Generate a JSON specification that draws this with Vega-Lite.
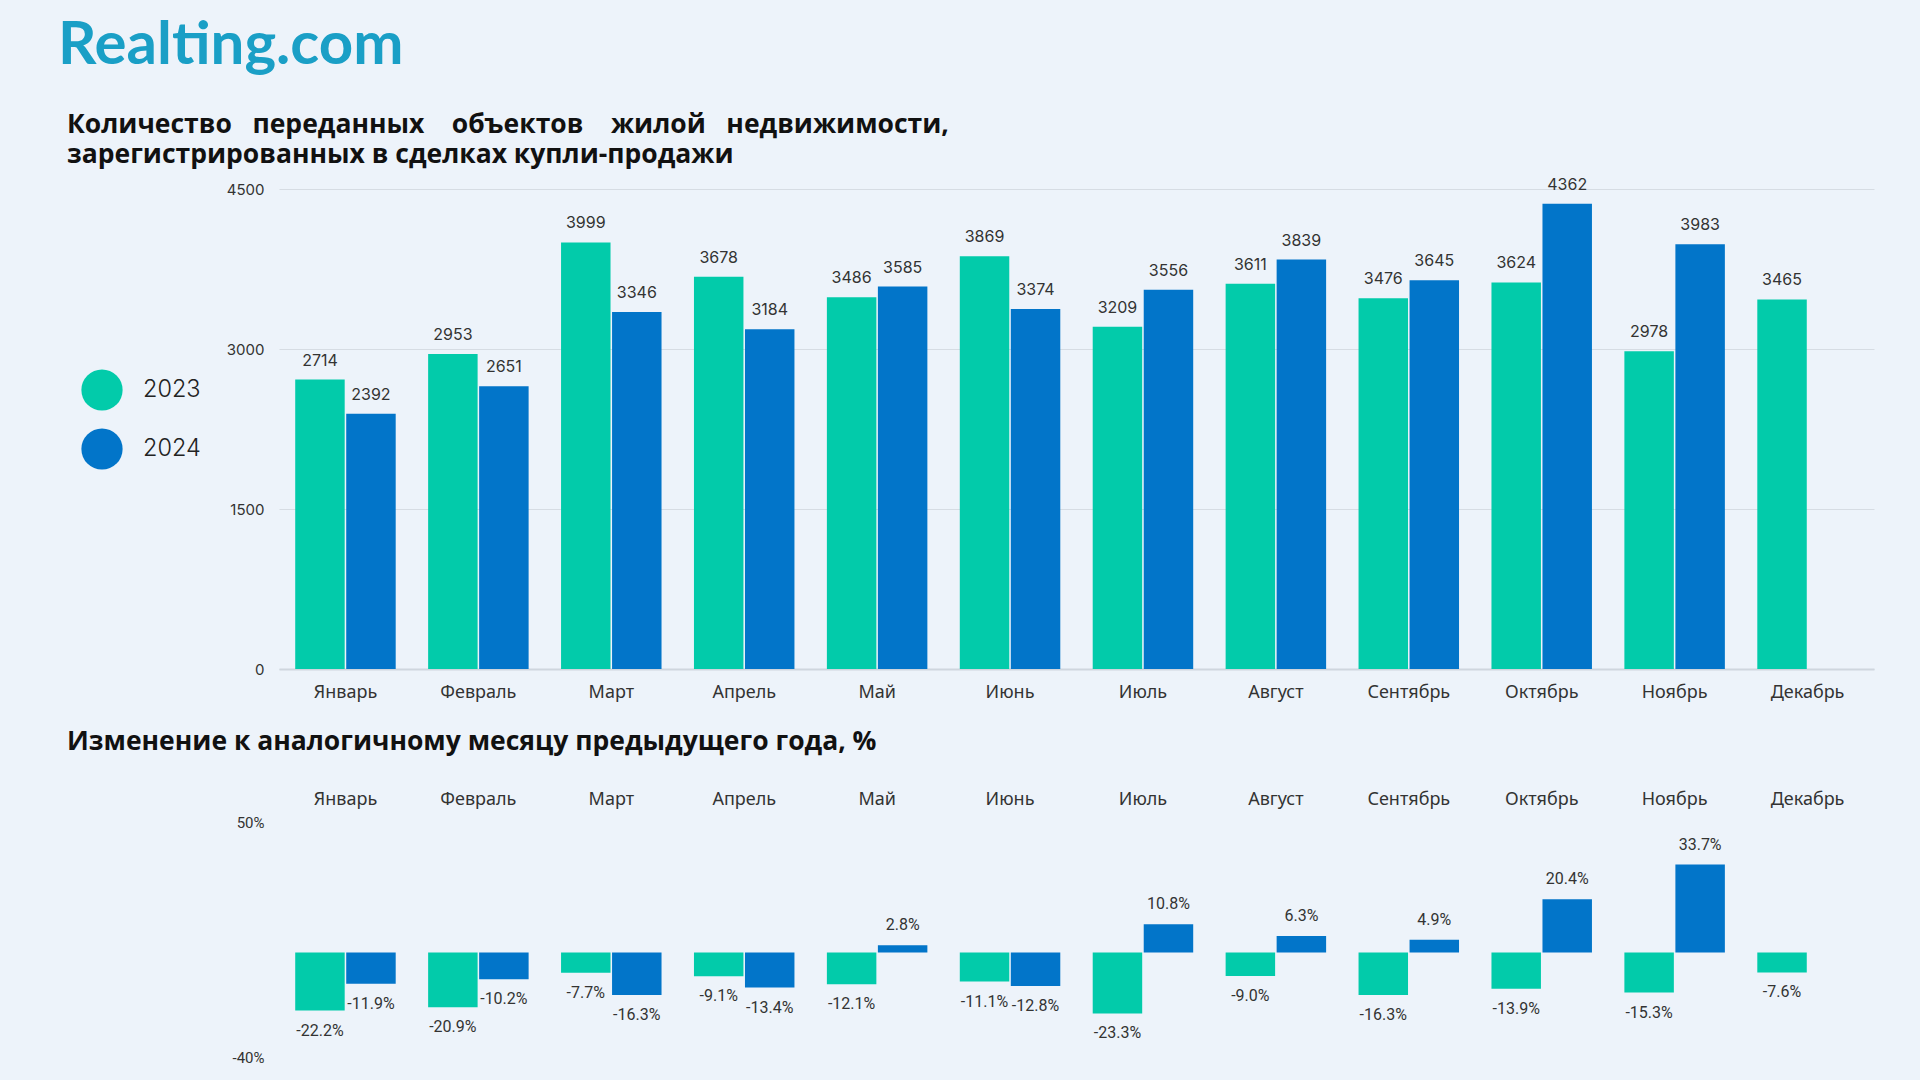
{
  "$schema": "https://vega.github.io/schema/vega-lite/v6.json",
  "background": "#edf3fa",
  "padding": {"left": 58, "top": 16, "right": 46, "bottom": 24},
  "config": {
    "view": {"stroke": null},
    "locale": {"number": {"decimal": ".", "thousands": "", "grouping": [3], "currency": ["", ""], "minus": "-"}},
    "axis": {"labelFont": "Noto Sans", "labelColor": "#333333", "ticks": false, "title": null}
  },
  "title": {
    "text": "Realting.com",
    "anchor": "start",
    "frame": "bounds",
    "dx": -9,
    "font": "Lato",
    "fontSize": 60,
    "fontWeight": "bold",
    "color": "#1a9fc6",
    "offset": 35
  },
  "datasets": {
    "counts": [
      {"month": "Январь", "year": "2023", "value": 2714},
      {"month": "Январь", "year": "2024", "value": 2392},
      {"month": "Февраль", "year": "2023", "value": 2953},
      {"month": "Февраль", "year": "2024", "value": 2651},
      {"month": "Март", "year": "2023", "value": 3999},
      {"month": "Март", "year": "2024", "value": 3346},
      {"month": "Апрель", "year": "2023", "value": 3678},
      {"month": "Апрель", "year": "2024", "value": 3184},
      {"month": "Май", "year": "2023", "value": 3486},
      {"month": "Май", "year": "2024", "value": 3585},
      {"month": "Июнь", "year": "2023", "value": 3869},
      {"month": "Июнь", "year": "2024", "value": 3374},
      {"month": "Июль", "year": "2023", "value": 3209},
      {"month": "Июль", "year": "2024", "value": 3556},
      {"month": "Август", "year": "2023", "value": 3611},
      {"month": "Август", "year": "2024", "value": 3839},
      {"month": "Сентябрь", "year": "2023", "value": 3476},
      {"month": "Сентябрь", "year": "2024", "value": 3645},
      {"month": "Октябрь", "year": "2023", "value": 3624},
      {"month": "Октябрь", "year": "2024", "value": 4362},
      {"month": "Ноябрь", "year": "2023", "value": 2978},
      {"month": "Ноябрь", "year": "2024", "value": 3983},
      {"month": "Декабрь", "year": "2023", "value": 3465}
    ],
    "changes": [
      {"month": "Январь", "year": "2023", "change": -0.222},
      {"month": "Январь", "year": "2024", "change": -0.119},
      {"month": "Февраль", "year": "2023", "change": -0.209},
      {"month": "Февраль", "year": "2024", "change": -0.102},
      {"month": "Март", "year": "2023", "change": -0.077},
      {"month": "Март", "year": "2024", "change": -0.163},
      {"month": "Апрель", "year": "2023", "change": -0.091},
      {"month": "Апрель", "year": "2024", "change": -0.134},
      {"month": "Май", "year": "2023", "change": -0.121},
      {"month": "Май", "year": "2024", "change": 0.028},
      {"month": "Июнь", "year": "2023", "change": -0.111},
      {"month": "Июнь", "year": "2024", "change": -0.128},
      {"month": "Июль", "year": "2023", "change": -0.233},
      {"month": "Июль", "year": "2024", "change": 0.108},
      {"month": "Август", "year": "2023", "change": -0.090},
      {"month": "Август", "year": "2024", "change": 0.063},
      {"month": "Сентябрь", "year": "2023", "change": -0.163},
      {"month": "Сентябрь", "year": "2024", "change": 0.049},
      {"month": "Октябрь", "year": "2023", "change": -0.139},
      {"month": "Октябрь", "year": "2024", "change": 0.204},
      {"month": "Ноябрь", "year": "2023", "change": -0.153},
      {"month": "Ноябрь", "year": "2024", "change": 0.337},
      {"month": "Декабрь", "year": "2023", "change": -0.076}
    ]
  },
  "resolve": {"scale": {"color": "independent"}},
  "spacing": 27,
  "vconcat": [
    {
      "width": 1595,
      "height": 480,
      "title": {
        "text": ["Количество\u00a0\u00a0 переданных\u00a0\u00a0\u00a0 объектов\u00a0\u00a0\u00a0 жилой\u00a0\u00a0 недвижимости,", "зарегистрированных в сделках купли-продажи"],
        "anchor": "start",
        "frame": "group",
        "dx": -212,
        "font": "Open Sans",
        "fontSize": 26.5,
        "fontWeight": "bold",
        "color": "#111111",
        "lineHeight": 30,
        "offset": 8
      },
      "data": {"name": "counts"},
      "encoding": {
        "x": {
          "field": "month", "type": "nominal",
          "sort": ["Январь", "Февраль", "Март", "Апрель", "Май", "Июнь", "Июль", "Август", "Сентябрь", "Октябрь", "Ноябрь", "Декабрь"],
          "scale": {"paddingInner": 0.244, "paddingOuter": 0.122},
          "axis": {"labelAngle": 0, "labelFontSize": 18, "labelPadding": 14, "domainColor": "#cfd6de", "domainWidth": 2}
        },
        "xOffset": {"field": "year", "type": "nominal", "scale": {"paddingInner": 0.03}},
        "y": {
          "field": "value", "type": "quantitative",
          "scale": {"domain": [0, 4500], "nice": false},
          "axis": {"values": [0, 1500, 3000, 4500], "format": "d", "domain": false, "gridColor": "#d6dce3", "labelFont": "Inter", "labelFontSize": 15, "labelPadding": 15}
        }
      },
      "layer": [
        {
          "mark": {"type": "bar"},
          "encoding": {
            "color": {
              "field": "year", "type": "nominal",
              "scale": {"domain": ["2023", "2024"], "range": ["#02cbaa", "#0275c9"]},
              "legend": {
                "title": null, "orient": "none", "legendX": -198, "legendY": 180,
                "symbolType": "circle", "symbolSize": 1700, "symbolStrokeWidth": 0,
                "labelFont": "Inter", "labelFontWeight": 300, "labelFontSize": 23.5, "labelColor": "#222222",
                "labelOffset": 20, "rowPadding": 17
              }
            }
          }
        },
        {
          "mark": {"type": "text", "baseline": "middle", "dy": -19, "font": "Inter", "fontSize": 16, "color": "#333333"},
          "encoding": {"text": {"field": "value", "type": "quantitative", "format": "d"}}
        }
      ]
    },
    {
      "width": 1595,
      "height": 235,
      "title": {
        "text": "Изменение к аналогичному месяцу предыдущего года, %",
        "anchor": "start",
        "frame": "group",
        "dx": -212,
        "font": "Open Sans",
        "fontSize": 26.5,
        "fontWeight": "bold",
        "color": "#111111",
        "offset": 35
      },
      "data": {"name": "changes"},
      "encoding": {
        "x": {
          "field": "month", "type": "nominal",
          "sort": ["Январь", "Февраль", "Март", "Апрель", "Май", "Июнь", "Июль", "Август", "Сентябрь", "Октябрь", "Ноябрь", "Декабрь"],
          "scale": {"paddingInner": 0.244, "paddingOuter": 0.122},
          "axis": {"orient": "top", "labelAngle": 0, "labelFontSize": 18, "labelPadding": 14, "domain": false}
        },
        "y": {
          "field": "change", "type": "quantitative",
          "scale": {"domain": [-0.4, 0.5], "nice": false},
          "axis": {"values": [-0.4, 0.5], "format": ".0%", "grid": false, "domain": false, "labelFont": "Roboto", "labelFontSize": 15, "labelPadding": 15}
        }
      },
      "layer": [
        {
          "mark": {"type": "rule", "color": "#cdd4dc", "strokeWidth": 2},
          "encoding": {"y": {"datum": 0}}
        },
        {
          "mark": {"type": "bar"},
          "encoding": {
            "xOffset": {"field": "year", "type": "nominal", "scale": {"paddingInner": 0.03}},
            "color": {
              "field": "year", "type": "nominal",
              "scale": {"domain": ["2023", "2024"], "range": ["#02cbaa", "#0275c9"]},
              "legend": null
            }
          }
        },
        {
          "transform": [{"filter": "datum.change < 0"}],
          "mark": {"type": "text", "baseline": "middle", "dy": 20, "font": "Roboto", "fontSize": 16, "color": "#333333"},
          "encoding": {
            "xOffset": {"field": "year", "type": "nominal", "scale": {"paddingInner": 0.03}},
            "text": {"field": "change", "type": "quantitative", "format": ".1%"}
          }
        },
        {
          "transform": [{"filter": "datum.change >= 0"}],
          "mark": {"type": "text", "baseline": "middle", "dy": -20, "font": "Roboto", "fontSize": 16, "color": "#333333"},
          "encoding": {
            "xOffset": {"field": "year", "type": "nominal", "scale": {"paddingInner": 0.03}},
            "text": {"field": "change", "type": "quantitative", "format": ".1%"}
          }
        }
      ]
    }
  ]
}
